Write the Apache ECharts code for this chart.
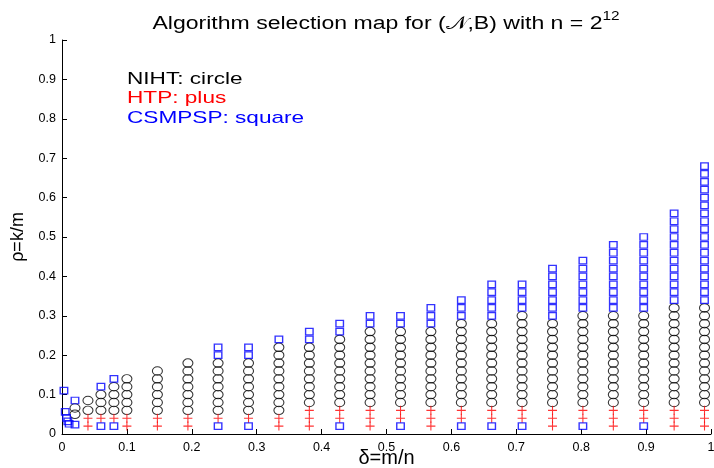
<!DOCTYPE html>
<html>
<head>
<meta charset="utf-8">
<script src="https://cdn.jsdelivr.net/npm/echarts@6/dist/echarts.min.js"></script>
<style>
html,body{margin:0;padding:0;background:#fff;}
#c{width:714px;height:468px;}
</style>
</head>
<body>
<div id="c"></div>
<script>
// Tick labels
const xTicks = [0, 0.1, 0.2, 0.3, 0.4, 0.5, 0.6, 0.7, 0.8, 0.9, 1];
const yTicks = [0, 0.1, 0.2, 0.3, 0.4, 0.5, 0.6, 0.7, 0.8, 0.9, 1];

// NIHT (circle): delta of each column and the rho values in it
const nihtDelta = [0.02, 0.04, 0.06, 0.08, 0.1, 0.147, 0.194, 0.2405, 0.2874, 0.3342, 0.3811, 0.4279, 0.4747, 0.5216, 0.5684, 0.6153, 0.6621, 0.7089, 0.7558, 0.8026, 0.8495, 0.8963, 0.9432, 0.99];
const nihtRho = [
  [0.05, 0.066],
  [0.06, 0.085],
  [0.06, 0.08, 0.10],
  [0.06, 0.08, 0.10, 0.12],
  [0.06, 0.08, 0.10, 0.12, 0.14],
  [0.06, 0.08, 0.10, 0.12, 0.14, 0.16],
  [0.06, 0.08, 0.10, 0.12, 0.14, 0.16, 0.18],
  [0.06, 0.08, 0.10, 0.12, 0.14, 0.16, 0.18],
  [0.06, 0.08, 0.10, 0.12, 0.14, 0.16, 0.18],
  [0.06, 0.08, 0.10, 0.12, 0.14, 0.16, 0.18, 0.20, 0.22],
  [0.08, 0.10, 0.12, 0.14, 0.16, 0.18, 0.20, 0.22],
  [0.08, 0.10, 0.12, 0.14, 0.16, 0.18, 0.20, 0.22, 0.24],
  [0.08, 0.10, 0.12, 0.14, 0.16, 0.18, 0.20, 0.22, 0.24, 0.26],
  [0.08, 0.10, 0.12, 0.14, 0.16, 0.18, 0.20, 0.22, 0.24, 0.26],
  [0.08, 0.10, 0.12, 0.14, 0.16, 0.18, 0.20, 0.22, 0.24, 0.26],
  [0.08, 0.10, 0.12, 0.14, 0.16, 0.18, 0.20, 0.22, 0.24, 0.26, 0.28],
  [0.08, 0.10, 0.12, 0.14, 0.16, 0.18, 0.20, 0.22, 0.24, 0.26, 0.28],
  [0.08, 0.10, 0.12, 0.14, 0.16, 0.18, 0.20, 0.22, 0.24, 0.26, 0.28, 0.30],
  [0.08, 0.10, 0.12, 0.14, 0.16, 0.18, 0.20, 0.22, 0.24, 0.26, 0.28],
  [0.08, 0.10, 0.12, 0.14, 0.16, 0.18, 0.20, 0.22, 0.24, 0.26, 0.28, 0.30],
  [0.08, 0.10, 0.12, 0.14, 0.16, 0.18, 0.20, 0.22, 0.24, 0.26, 0.28, 0.30],
  [0.08, 0.10, 0.12, 0.14, 0.16, 0.18, 0.20, 0.22, 0.24, 0.26, 0.28, 0.30],
  [0.08, 0.10, 0.12, 0.14, 0.16, 0.18, 0.20, 0.22, 0.24, 0.26, 0.28, 0.30, 0.32],
  [0.08, 0.10, 0.12, 0.14, 0.16, 0.18, 0.20, 0.22, 0.24, 0.26, 0.28, 0.30, 0.32]
];

// HTP (plus)
const htpDelta = [0.04, 0.06, 0.08, 0.1, 0.147, 0.194, 0.2405, 0.2874, 0.3342, 0.3811, 0.4279, 0.4747, 0.5216, 0.5684, 0.6153, 0.6621, 0.7089, 0.7558, 0.8026, 0.8495, 0.8963, 0.9432, 0.99];
const htpRho = [
  [0.02, 0.04],
  [0.04],
  [0.04],
  [0.02, 0.04],
  [0.02, 0.04],
  [0.02, 0.04],
  [0.04],
  [0.04],
  [0.02, 0.04],
  [0.02, 0.04, 0.06],
  [0.04, 0.06],
  [0.02, 0.04, 0.06],
  [0.04, 0.06],
  [0.02, 0.04, 0.06],
  [0.04, 0.06],
  [0.04, 0.06],
  [0.04, 0.06],
  [0.02, 0.04, 0.06],
  [0.04, 0.06],
  [0.02, 0.04, 0.06],
  [0.04, 0.06],
  [0.02, 0.04, 0.06],
  [0.02, 0.04, 0.06]
];

// CSMPSP (square)
const csmpspDelta = [0.003, 0.005, 0.007, 0.009, 0.011, 0.02, 0.06, 0.08, 0.2405, 0.2874, 0.3342, 0.3811, 0.4279, 0.4747, 0.5216, 0.5684, 0.6153, 0.6621, 0.7089, 0.7558, 0.8026, 0.8495, 0.8963, 0.9432, 0.99];
const csmpspRho = [
  [0.11],
  [0.056],
  [0.041],
  [0.032],
  [0.026],
  [0.024, 0.085],
  [0.02, 0.12],
  [0.02, 0.14],
  [0.02, 0.20, 0.22],
  [0.02, 0.20, 0.22],
  [0.24],
  [0.24, 0.26],
  [0.02, 0.26, 0.28],
  [0.28, 0.30],
  [0.02, 0.28, 0.30],
  [0.28, 0.30, 0.32],
  [0.02, 0.30, 0.32, 0.34],
  [0.02, 0.30, 0.32, 0.34, 0.36, 0.38],
  [0.02, 0.32, 0.34, 0.36, 0.38],
  [0.30, 0.32, 0.34, 0.36, 0.38, 0.40, 0.42],
  [0.02, 0.32, 0.34, 0.36, 0.38, 0.40, 0.42, 0.44],
  [0.32, 0.34, 0.36, 0.38, 0.40, 0.42, 0.44, 0.46, 0.48],
  [0.02, 0.32, 0.34, 0.36, 0.38, 0.40, 0.42, 0.44, 0.46, 0.48, 0.50],
  [0.34, 0.36, 0.38, 0.40, 0.42, 0.44, 0.46, 0.48, 0.50, 0.52, 0.54, 0.56],
  [0.34, 0.36, 0.38, 0.40, 0.42, 0.44, 0.46, 0.48, 0.50, 0.52, 0.54, 0.56, 0.58, 0.60, 0.62, 0.64, 0.66, 0.68]
];

const legendLines = ['NIHT: circle', 'HTP: plus', 'CSMPSP: square'];
const legendColors = ['#000000', '#ff0000', '#0000ff'];

function toPoints(deltas, rhos) {
  const out = [];
  deltas.forEach((d, i) => rhos[i].forEach(r => out.push([d, r])));
  return out;
}
function tickFmt(list) {
  return v => { const t = list.find(x => Math.abs(x - v) < 1e-9); return t === undefined ? '' : String(t); };
}

const FONT = '"Liberation Sans", Arial, Helvetica, sans-serif';
const chart = echarts.init(document.getElementById('c'), null, {renderer: 'canvas'});

const axisCommon = {
  type: 'value', min: 0, max: 1, interval: 0.1,
  axisLine: {show: true, lineStyle: {color: '#000', width: 1}},
  axisTick: {show: true, inside: true, length: 5, lineStyle: {color: '#000'}},
  splitLine: {show: false},
  nameLocation: 'middle',
  nameMoveOverlap: false
};

chart.setOption({
  animation: false,
  backgroundColor: '#fff',
  grid: {left: 62, right: 3, top: 40, bottom: 34, containLabel: false, outerBoundsMode: 'none'},
  xAxis: Object.assign({}, axisCommon, {
    name: 'δ=m/n', nameGap: 14,
    nameTextStyle: {color: '#000', fontSize: 20, fontFamily: FONT},
    axisLabel: {color: '#000', fontSize: 12.5, fontFamily: FONT, margin: 7, formatter: tickFmt(xTicks)}
  }),
  yAxis: Object.assign({}, axisCommon, {
    name: 'ρ=k/m', nameGap: 35,
    nameTextStyle: {color: '#000', fontSize: 18, fontFamily: FONT},
    axisLabel: {color: '#000', fontSize: 12.5, fontFamily: FONT, margin: 6, formatter: tickFmt(yTicks)}
  }),
  series: [
    {
      type: 'scatter', name: 'NIHT', clip: false,
      data: toPoints(nihtDelta, nihtRho),
      symbol: 'circle', symbolSize: [10, 8.5],
      itemStyle: {color: 'rgba(0,0,0,0)', borderColor: '#000', borderWidth: 1}
    },
    {
      type: 'scatter', name: 'HTP', clip: false,
      data: toPoints(htpDelta, htpRho),
      symbol: 'path://M4.4,0H5.6V4.4H10V5.6H5.6V10H4.4V5.6H0V4.4H4.4Z', symbolSize: [9, 9],
      itemStyle: {color: '#ff0000'}
    },
    {
      type: 'scatter', name: 'CSMPSP', clip: false,
      data: toPoints(csmpspDelta, csmpspRho),
      symbol: 'rect', symbolSize: [7.5, 6.5],
      itemStyle: {color: 'rgba(0,0,0,0)', borderColor: '#0000ff', borderWidth: 1.3}
    }
  ],
  graphic: [
    {
      type: 'text', x: 386, y: 20, scaleX: 1.28,
      style: {
        text: '{a|Algorithm selection map for (𝒩,B) with n = 2}{s|12}',
        align: 'center', verticalAlign: 'middle',
        rich: {
          a: {fontSize: 18, fontFamily: FONT, fill: '#000', padding: [8, 0, 0, 0]},
          s: {fontSize: 12, fontFamily: FONT, fill: '#000', padding: [0, 0, 6, 0]}
        }
      }
    }
  ].concat(legendLines.map((t, i) => ({
    type: 'text', x: 127, y: 79 + i * 19.5, scaleX: 1.33,
    style: {text: t, fontSize: 17, fontFamily: FONT, fill: legendColors[i], align: 'left', verticalAlign: 'middle'}
  })))
});
</script>
</body>
</html>
